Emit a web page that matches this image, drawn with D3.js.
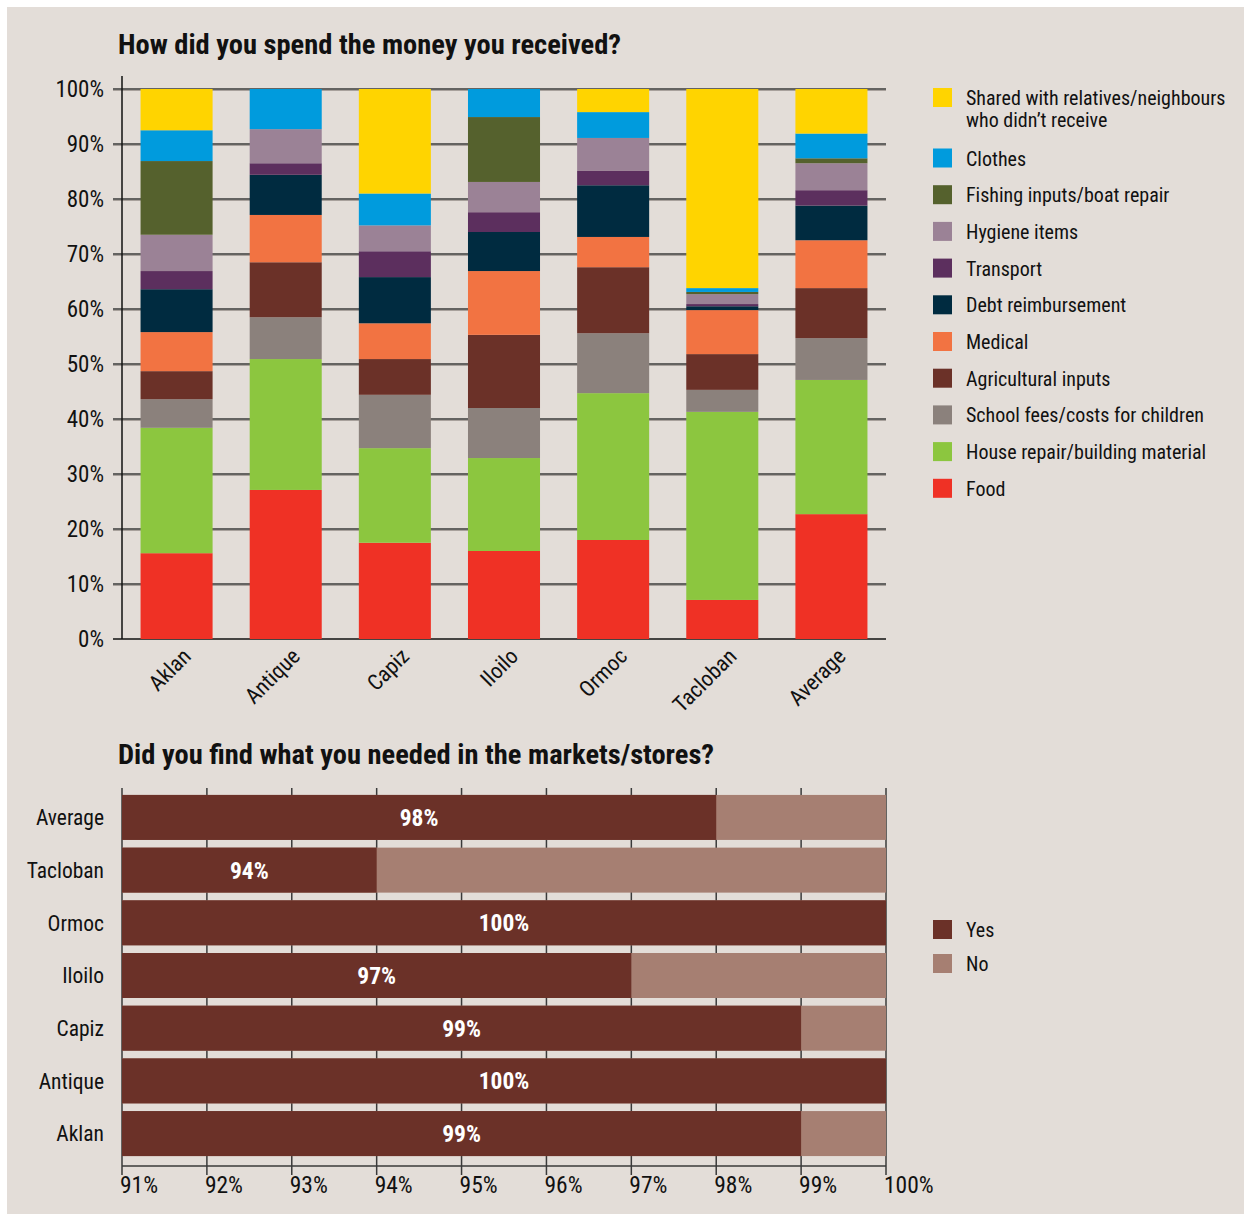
<!DOCTYPE html>
<html>
<head>
<meta charset="utf-8">
<script src="https://cdn.jsdelivr.net/npm/d3@7"></script>
<style>
  body { margin: 0; background: #fff; }
  text { font-family: "Liberation Sans Narrow", "Roboto Condensed", "DejaVu Sans Condensed", sans-serif; fill: #111; }
</style>
</head>
<body>
<div class="chart"></div>
<script>
// top chart: how the money was spent (% of respondents, stacked)
const cities = ['Aklan', 'Antique', 'Capiz', 'Iloilo', 'Ormoc', 'Tacloban', 'Average'];
const food = [15.6, 27.1, 17.5, 16.0, 18.0, 7.1, 22.7];
const house = [22.8, 23.8, 17.2, 16.9, 26.7, 34.2, 24.4];
const school = [5.2, 7.6, 9.7, 9.1, 10.9, 4.0, 7.6];
const agri = [5.1, 10.0, 6.5, 13.3, 12.0, 6.5, 9.1];
const medical = [7.1, 8.6, 6.5, 11.6, 5.5, 8.0, 8.7];
const debt = [7.8, 7.3, 8.4, 7.1, 9.4, 0.7, 6.3];
const transport = [3.3, 2.1, 4.7, 3.6, 2.6, 0.4, 2.8];
const hygiene = [6.6, 6.2, 4.7, 5.5, 6.0, 1.8, 4.9];
const fishing = [13.4, 0, 0, 11.8, 0, 0.4, 0.9];
const clothes = [5.6, 7.3, 5.8, 5.1, 4.7, 0.7, 4.5];
const shared = [7.5, 0, 19.0, 0, 4.2, 36.2, 8.1];
const yTicks = [0, 10, 20, 30, 40, 50, 60, 70, 80, 90, 100];

// bottom chart: found what was needed in markets
const places = ['Average', 'Tacloban', 'Ormoc', 'Iloilo', 'Capiz', 'Antique', 'Aklan'];
const yes = [98, 94, 100, 97, 99, 100, 99];
const xTicks = [91, 92, 93, 94, 95, 96, 97, 98, 99, 100];

const series = [
  { key: 'Food', values: food, color: '#ef3125' },
  { key: 'House repair/building material', values: house, color: '#8cc63f' },
  { key: 'School fees/costs for children', values: school, color: '#8b817c' },
  { key: 'Agricultural inputs', values: agri, color: '#6b3128' },
  { key: 'Medical', values: medical, color: '#f27342' },
  { key: 'Debt reimbursement', values: debt, color: '#002b40' },
  { key: 'Transport', values: transport, color: '#5c2f5e' },
  { key: 'Hygiene items', values: hygiene, color: '#9b8296' },
  { key: 'Fishing inputs/boat repair', values: fishing, color: '#55612d' },
  { key: 'Clothes', values: clothes, color: '#009bdd' },
  { key: 'Shared with relatives/neighbours|who didn\u2019t receive', values: shared, color: '#ffd400' }
];

const width = 1244, height = 1214;
const svg = d3.select('.chart').append('svg')
  .attr('width', width)
  .attr('height', height);

svg.append('rect')
  .attr('x', 7).attr('y', 7)
  .attr('width', width - 7).attr('height', height - 7)
  .attr('fill', '#e3ddd8');

// ---------- top chart ----------
const upper = { left: 122, right: 886, top: 89, bottom: 639 };

svg.append('text')
  .attr('x', 118).attr('y', 54)
  .attr('font-size', 28.5).attr('font-weight', 'bold')
  .text('How did you spend the money you received?');

const x = d3.scaleBand()
  .domain(cities)
  .range([upper.left, upper.right])
  .paddingInner(0.34)
  .paddingOuter(0.17);

const y = d3.scaleLinear()
  .domain([0, 100])
  .range([upper.bottom, upper.top]);

const upperG = svg.append('g');

// gridlines with a faint shadow under them
upperG.selectAll('.grid-shadow')
  .data(yTicks.slice(1))
  .join('line')
    .attr('x1', upper.left - 9).attr('x2', upper.right)
    .attr('y1', d => y(d) + 1.5).attr('y2', d => y(d) + 1.5)
    .attr('stroke', '#a8a19c').attr('stroke-width', 1);
upperG.selectAll('.grid')
  .data(yTicks)
  .join('line')
    .attr('x1', upper.left - 9).attr('x2', upper.right)
    .attr('y1', d => y(d)).attr('y2', d => y(d))
    .attr('stroke', d => d === 0 ? '#111' : '#3a3a3a').attr('stroke-width', 1.5);

upperG.selectAll('.ylab')
  .data(yTicks)
  .join('text')
    .attr('x', 104).attr('y', d => y(d))
    .attr('dy', '0.36em')
    .attr('text-anchor', 'end')
    .attr('font-size', 23)
    .text(d => d + '%');

upperG.append('line')
  .attr('x1', upper.left).attr('x2', upper.left)
  .attr('y1', 76).attr('y2', upper.bottom)
  .attr('stroke', '#111').attr('stroke-width', 1.5);

const table = cities.map((c, i) => {
  const row = { city: c };
  series.forEach(s => { row[s.key] = s.values[i]; });
  return row;
});
const stacked = d3.stack().keys(series.map(s => s.key))(table);

upperG.selectAll('.layer')
  .data(stacked)
  .join('g')
    .attr('fill', (d, i) => series[i].color)
  .selectAll('rect')
  .data(d => d)
  .join('rect')
    .attr('x', d => x(d.data.city))
    .attr('width', x.bandwidth())
    .attr('y', d => y(d[1]))
    .attr('height', d => y(d[0]) - y(d[1]));

upperG.selectAll('.xlab')
  .data(cities)
  .join('text')
    .attr('transform', d => `translate(${x(d) + x.bandwidth() / 2 + 4}, 646) rotate(-45)`)
    .attr('text-anchor', 'end')
    .attr('dy', '0.75em')
    .attr('font-size', 22)
    .text(d => d);

// legend, top entry first
const legend = svg.append('g');
const legendItems = series.slice().reverse();
let ly = 88;
legendItems.forEach(s => {
  const lines = s.key.split('|');
  legend.append('rect')
    .attr('x', 933).attr('y', ly)
    .attr('width', 19).attr('height', 19)
    .attr('fill', s.color);
  lines.forEach((t, j) => {
    legend.append('text')
      .attr('x', 966).attr('y', ly + 17 + j * 22)
      .attr('font-size', 20)
      .text(t);
  });
  ly += lines.length > 1 ? 60.5 : 36.7;
});

// ---------- bottom chart ----------
const lower = { left: 122, right: 886, top: 788, bottom: 1166 };

svg.append('text')
  .attr('x', 118).attr('y', 764)
  .attr('font-size', 28.5).attr('font-weight', 'bold')
  .text('Did you find what you needed in the markets/stores?');

const bx = d3.scaleLinear()
  .domain([91, 100])
  .range([lower.left, lower.right]);

const by = d3.scaleBand()
  .domain(places)
  .range([786.5, 1164.5])
  .paddingInner(0.146)
  .paddingOuter(0.16);

const lowerG = svg.append('g');

lowerG.selectAll('.vgrid')
  .data(xTicks)
  .join('line')
    .attr('x1', d => bx(d)).attr('x2', d => bx(d))
    .attr('y1', lower.top).attr('y2', lower.bottom + 9)
    .attr('stroke', '#3a3a3a').attr('stroke-width', 1.5);

lowerG.append('line')
  .attr('x1', lower.left).attr('x2', lower.right)
  .attr('y1', lower.bottom).attr('y2', lower.bottom)
  .attr('stroke', '#3a3a3a').attr('stroke-width', 1.5);

lowerG.selectAll('.no')
  .data(places)
  .join('rect')
    .attr('x', bx(91))
    .attr('width', bx(100) - bx(91))
    .attr('y', d => by(d))
    .attr('height', by.bandwidth())
    .attr('fill', '#a67f72');

lowerG.selectAll('.yes')
  .data(places)
  .join('rect')
    .attr('x', bx(91))
    .attr('width', (d, i) => bx(yes[i]) - bx(91))
    .attr('y', d => by(d))
    .attr('height', by.bandwidth())
    .attr('fill', '#6b3128');

lowerG.selectAll('.val')
  .data(places)
  .join('text')
    .attr('x', (d, i) => (bx(91) + bx(yes[i])) / 2)
    .attr('y', d => by(d) + by.bandwidth() / 2)
    .attr('dy', '0.36em')
    .attr('text-anchor', 'middle')
    .attr('font-size', 23.5).attr('font-weight', 'bold')
    .style('fill', '#fff')
    .text((d, i) => yes[i] + '%');

lowerG.selectAll('.plab')
  .data(places)
  .join('text')
    .attr('x', 104)
    .attr('y', d => by(d) + by.bandwidth() / 2)
    .attr('dy', '0.36em')
    .attr('text-anchor', 'end')
    .attr('font-size', 21.5)
    .text(d => d);

lowerG.selectAll('.xlab')
  .data(xTicks)
  .join('text')
    .attr('x', d => bx(d) - 2)
    .attr('y', 1193)
    .attr('font-size', 23.5)
    .text(d => d + '%');

[['Yes', '#6b3128'], ['No', '#a67f72']].forEach(([t, c], i) => {
  svg.append('rect')
    .attr('x', 933).attr('y', 920 + i * 34)
    .attr('width', 19).attr('height', 19)
    .attr('fill', c);
  svg.append('text')
    .attr('x', 966).attr('y', 937 + i * 34)
    .attr('font-size', 20)
    .text(t);
});
</script>
</body>
</html>
